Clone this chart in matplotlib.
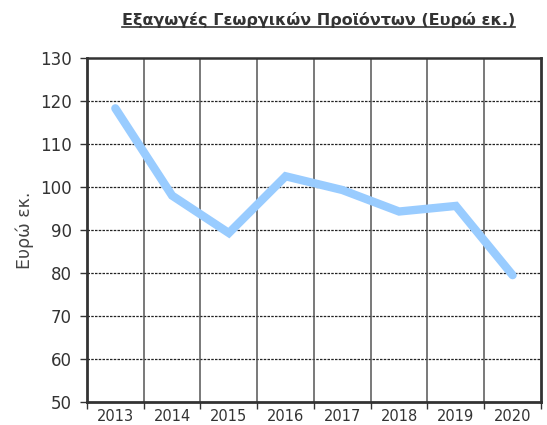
import matplotlib
matplotlib.use("Agg")
import matplotlib.pyplot as plt
import numpy as np
from matplotlib.lines import Line2D

years = ["2013", "2014", "2015", "2016", "2017", "2018", "2019", "2020"]
values = [118.3, 98.0, 89.3, 102.5, 99.3, 94.3, 95.6, 79.5]
yticks = [50, 60, 70, 80, 90, 100, 110, 120, 130]
title = "Εξαγωγές Γεωργικών Προϊόντων (Ευρώ εκ.)"
ylabel = "Ευρώ εκ."

plt.rcParams['font.family'] = ['DejaVu Sans']

fig = plt.figure(figsize=(5.47, 4.25), dpi=100)
ax = fig.add_axes([0.159, 0.0541, 0.830, 0.8094])

x = np.arange(len(years))
ax.plot(x, values, color='#99CCFF', lw=6, solid_capstyle='round', solid_joinstyle='miter', zorder=3)

ax.set_xlim(-0.5, len(years) - 0.5)
ax.set_ylim(50, 130)
ax.set_yticks(yticks)
ax.set_xticks(x)
ax.set_xticklabels(years)
ax.set_xticks(np.arange(-0.5, len(years) + 0.5, 1), minor=True)
ax.tick_params(axis='x', which='major', length=0, pad=5, labelsize=10.5, labelcolor='#333333')
ax.tick_params(axis='x', which='minor', length=5, width=1, color='#333333', direction='out')
ax.tick_params(axis='y', length=5, width=1, color='#333333', labelsize=12, labelcolor='#333333', pad=6)

for yv in yticks[1:-1]:
    ax.axhline(yv, color='#222222', lw=0.9, ls=(0, (2, 1)), zorder=1)
for xv in np.arange(0.5, len(years) - 0.5, 1):
    ax.axvline(xv, color='#555555', lw=1.1, zorder=1)

for s in ax.spines.values():
    s.set_color('#333333')
    s.set_linewidth(2)
ax.spines['top'].set_linewidth(1.8)

ax.set_ylabel(ylabel, fontsize=12.5, color='#444444', labelpad=4)

t = fig.text(0.582, 0.953, title, ha='center', va='center', fontsize=11.5,
             fontweight='bold', color='#333333')
fig.canvas.draw()
bb = t.get_window_extent().transformed(fig.transFigure.inverted())
fig.add_artist(Line2D([bb.x0, bb.x1], [bb.y0 + 0.002, bb.y0 + 0.002], color='#333333', lw=1.2,
                      transform=fig.transFigure))

fig.savefig('out.png', dpi=100)
